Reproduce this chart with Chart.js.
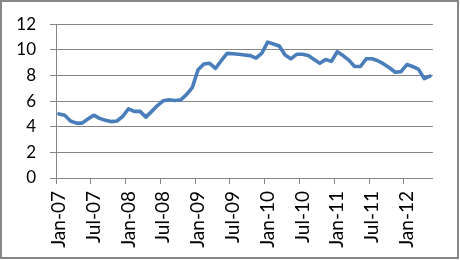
<!DOCTYPE html>
<html><head><meta charset="utf-8">
<script src="https://cdn.jsdelivr.net/npm/chart.js@4/dist/chart.umd.min.js"></script>
<style>html,body{margin:0;padding:0;background:#fff}</style>
</head><body>
<canvas id="c" width="460" height="260"></canvas>
<script>
const categories = [
 "Jan-07","Feb-07","Mar-07","Apr-07","May-07","Jun-07","Jul-07","Aug-07","Sep-07","Oct-07","Nov-07","Dec-07",
 "Jan-08","Feb-08","Mar-08","Apr-08","May-08","Jun-08","Jul-08","Aug-08","Sep-08","Oct-08","Nov-08","Dec-08",
 "Jan-09","Feb-09","Mar-09","Apr-09","May-09","Jun-09","Jul-09","Aug-09","Sep-09","Oct-09","Nov-09","Dec-09",
 "Jan-10","Feb-10","Mar-10","Apr-10","May-10","Jun-10","Jul-10","Aug-10","Sep-10","Oct-10","Nov-10","Dec-10",
 "Jan-11","Feb-11","Mar-11","Apr-11","May-11","Jun-11","Jul-11","Aug-11","Sep-11","Oct-11","Nov-11","Dec-11",
 "Jan-12","Feb-12","Mar-12","Apr-12","May-12"
];
const values = [
 5.0, 4.9, 4.45, 4.28, 4.28, 4.6, 4.9, 4.65, 4.5, 4.4, 4.45, 4.8,
 5.4, 5.2, 5.2, 4.75, 5.2, 5.65, 6.03, 6.1, 6.05, 6.1, 6.5, 7.05,
 8.45, 8.9, 8.95, 8.55, 9.15, 9.72, 9.7, 9.65, 9.6, 9.55, 9.35, 9.75,
 10.6, 10.45, 10.3, 9.6, 9.3, 9.65, 9.65, 9.55, 9.25, 8.95, 9.25, 9.1,
 9.85, 9.55, 9.2, 8.7, 8.7, 9.3, 9.3, 9.15, 8.9, 8.6, 8.25, 8.3,
 8.85, 8.7, 8.5, 7.75, 7.95
];
const xTickLabels = ["Jan-07","Jul-07","Jan-08","Jul-08","Jan-09","Jul-09","Jan-10","Jul-10","Jan-11","Jul-11","Jan-12"];
const yTicks = [0, 2, 4, 6, 8, 10, 12];

const GRID = '#868686';
const frame = {
  id: 'frame',
  beforeDraw(chart) {
    const ctx = chart.ctx;
    ctx.save();
    ctx.fillStyle = '#fff';
    ctx.fillRect(0, 0, chart.width, chart.height);
    ctx.restore();
  },
  afterDraw(chart) {
    const ctx = chart.ctx;
    ctx.save();
    ctx.strokeStyle = GRID;
    ctx.lineWidth = 2;
    ctx.strokeRect(1, 1, 457, 257);
    ctx.restore();
  }
};

new Chart(document.getElementById('c'), {
  type: 'line',
  data: {
    labels: categories,
    datasets: [{
      data: values,
      borderColor: '#4A7EBB',
      borderWidth: 3.6,
      pointRadius: 0,
      tension: 0,
      borderJoinStyle: 'round',
      borderCapStyle: 'round',
      fill: false
    }]
  },
  options: {
    responsive: false,
    animation: false,
    devicePixelRatio: 1,
    layout: { padding: { left: 0, top: 24, right: 24, bottom: 0 } },
    plugins: { legend: { display: false }, tooltip: { enabled: false } },
    scales: {
      x: {
        type: 'category',
        offset: true,
        afterFit(s) { s.height = 82; },
        grid: {
          offset: true,
          drawOnChartArea: false,
          drawTicks: true,
          tickLength: 6,
          color: (c) => (xTickLabels.includes(categories[c.index]) ? GRID : 'rgba(0,0,0,0)'),
          lineWidth: 1
        },
        border: { display: true, color: GRID, width: 1 },
        ticks: {
          autoSkip: false,
          maxRotation: 90,
          minRotation: 90,
          padding: 7,
          color: '#000',
          font: { family: 'Lato', size: 19 },
          callback(v, i) { return xTickLabels.includes(categories[i]) ? categories[i] : ''; }
        }
      },
      y: {
        min: 0, max: 12,
        afterFit(s) { s.width = 56; },
        afterBuildTicks(s) { s.ticks = yTicks.map(v => ({ value: v })); },
        grid: { color: GRID, lineWidth: 1, tickLength: 6 },
        border: { display: true, color: GRID, width: 1 },
        ticks: {
          stepSize: 2,
          padding: 14,
          color: '#000',
          font: { family: 'Lato', size: 17 }
        }
      }
    }
  },
  plugins: [frame]
});
</script>
</body></html>
